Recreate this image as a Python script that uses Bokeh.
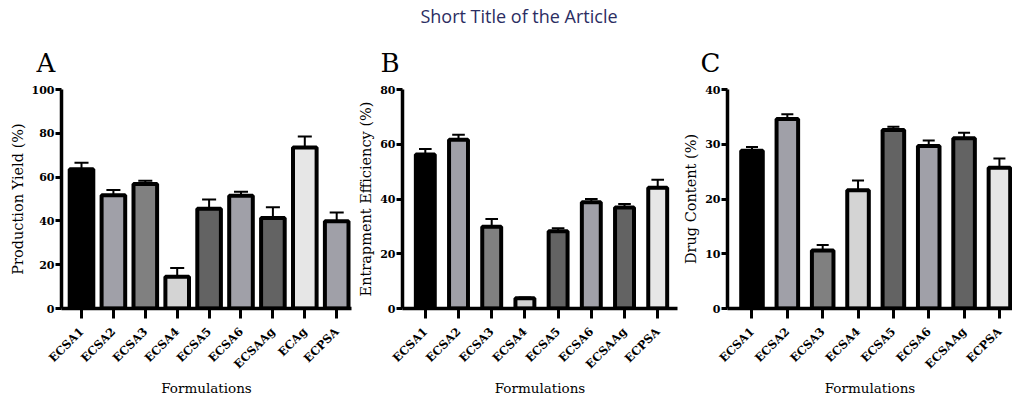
import math
from bokeh.plotting import figure
from bokeh.models import Range1d, FixedTicker, Div, ColumnDataSource
from bokeh.layouts import row, column
from bokeh.embed import file_html
from bokeh.resources import INLINE

page_title = "Short Title of the Article"

# Panel A - Production yield
cats_a = ["ECSA1", "ECSA2", "ECSA3", "ECSA4", "ECSA5", "ECSA6", "ECSAAg", "ECAg", "ECPSA"]
yield_a = [63.6, 51.7, 56.9, 14.5, 45.6, 51.5, 41.3, 73.5, 39.8]
err_a = [3.0, 2.4, 1.4, 4.0, 4.2, 1.8, 4.9, 5.0, 4.0]
colors_a = ["#000000", "#a0a0a8", "#808080", "#d4d4d4", "#636363", "#a0a0a8", "#636363", "#e6e6e6", "#a0a0a8"]

# Panel B - Entrapment efficiency
cats_b = ["ECSA1", "ECSA2", "ECSA3", "ECSA4", "ECSA5", "ECSA6", "ECSAAg", "ECPSA"]
eff_b = [56.3, 61.6, 29.9, 3.7, 28.2, 38.8, 36.9, 44.1]
err_b = [2.0, 1.9, 2.8, 0.3, 1.1, 1.2, 1.3, 2.9]
colors_b = ["#000000", "#a0a0a8", "#808080", "#d4d4d4", "#636363", "#a0a0a8", "#636363", "#e6e6e6"]

# Panel C - Drug content
cats_c = ["ECSA1", "ECSA2", "ECSA3", "ECSA4", "ECSA5", "ECSA6", "ECSAAg", "ECPSA"]
content_c = [28.8, 34.6, 10.6, 21.6, 32.6, 29.7, 31.1, 25.7]
err_c = [0.7, 0.9, 1.0, 1.8, 0.6, 1.0, 1.0, 1.7]
colors_c = ["#000000", "#a0a0a8", "#808080", "#d4d4d4", "#636363", "#a0a0a8", "#636363", "#e6e6e6"]

SERIF = "DejaVu Serif"
HEAD_H = 22
FIG_H = 389 - HEAD_H
TOP = 87 - 8 - HEAD_H
BOTTOM = FIG_H - TOP - 221


def panel(letter, cats, vals, errs, colors, ylabel, ymax, ystep, width,
          b_left, b_right, x0, x1, bar_w, cap_hw, letter_offset):
    p = figure(width=width, height=FIG_H, output_backend="svg", toolbar_location=None,
               x_range=Range1d(x0, x1), y_range=Range1d(0, ymax),
               min_border_left=b_left, min_border_right=b_right,
               min_border_top=TOP, min_border_bottom=BOTTOM)
    xs = list(range(len(cats)))
    tops = [v + e for v, e in zip(vals, errs)]
    src = ColumnDataSource(dict(x=xs, top=vals, color=colors, etop=tops,
                                cl=[x - cap_hw for x in xs], cr=[x + cap_hw for x in xs]))
    p.segment(x0="x", y0="top", x1="x", y1="etop", source=src, line_color="black", line_width=2)
    p.segment(x0="cl", y0="etop", x1="cr", y1="etop", source=src, line_color="black", line_width=2)
    p.vbar(x="x", top="top", bottom=0, width=bar_w, source=src, fill_color="color",
           line_color="black", line_width=4)

    p.grid.visible = False
    p.outline_line_color = None
    p.background_fill_color = "white"
    p.border_fill_color = "white"

    for ax in p.axis:
        ax.axis_line_width = 3.5
        ax.axis_line_color = "black"
        ax.major_tick_line_width = 3
        ax.major_tick_line_color = "black"
        ax.minor_tick_line_color = None
        ax.major_tick_in = 0
        ax.major_label_text_font = SERIF
        ax.major_label_text_font_style = "bold"
        ax.major_label_text_font_size = "11.5px"
        ax.major_label_text_color = "black"
        ax.axis_label_text_font = SERIF
        ax.axis_label_text_font_style = "normal"
        ax.axis_label_text_color = "black"

    p.xaxis.ticker = FixedTicker(ticks=xs)
    p.xaxis.major_label_overrides = {i: c for i, c in enumerate(cats)}
    p.xaxis.major_label_orientation = math.pi / 4
    p.xaxis.major_tick_out = 10
    p.xaxis.major_label_standoff = 11
    p.xaxis.axis_label = "Formulations"
    p.xaxis.axis_label_text_font_size = "13.5px"
    p.xaxis.axis_label_standoff = 1

    p.yaxis.ticker = FixedTicker(ticks=list(range(0, ymax + 1, ystep)))
    p.yaxis.major_label_text_font_size = "11px"
    p.yaxis.major_tick_out = 6
    p.yaxis.major_label_standoff = 1
    p.yaxis.axis_label = ylabel
    p.yaxis.axis_label_text_font_size = "14.5px"
    p.yaxis.axis_label_standoff = 3

    p.title.text = letter
    p.title.text_font = SERIF
    p.title.text_font_size = "26px"
    p.title.text_font_style = "normal"
    p.title.text_color = "black"
    p.title.align = "left"
    p.title.offset = letter_offset
    p.title.standoff = 24
    return p


pa = panel("A", cats_a, yield_a, err_a, colors_a, "Production Yield (%)", 100, 20, 355,
           61, 4, -0.627, 8.464, 0.74, 0.22, -25)
pb = panel("B", cats_b, eff_b, err_b, colors_b, "Entrapment Efficiency (%)", 80, 20, 324,
           47, 2, -0.687, 7.596, 0.57, 0.19, -22)
pc = panel("C", cats_c, content_c, err_c, colors_c, "Drug Content (%)", 40, 10, 333,
           48, 0, -0.693, 7.37, 0.61, 0.17, -27)

head = Div(text=page_title, width=1012, height=HEAD_H,
           styles={"text-align": "center", "font-family": "Open Sans", "font-size": "18px",
                   "color": "#2b2d62", "line-height": "22px", "padding-left": "16px"})

layout = column(head, row(pa, pb, pc))
open("out.html", "w").write(file_html(layout, INLINE))
